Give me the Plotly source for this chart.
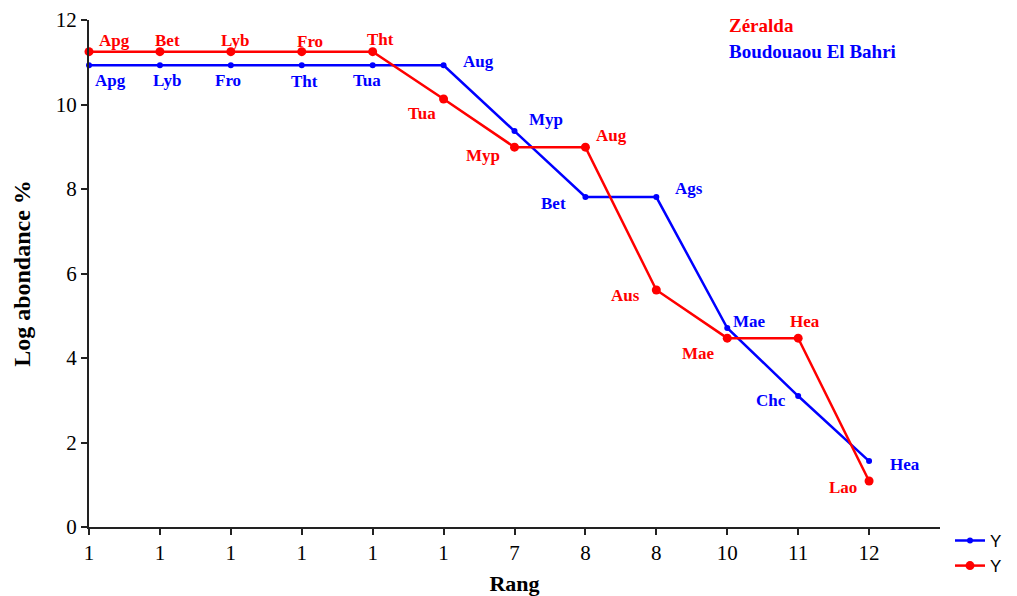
import plotly.graph_objects as go

# Data
rang_labels = ["1", "1", "1", "1", "1", "1", "7", "8", "8", "10", "11", "12"]
positions = list(range(len(rang_labels)))

boud_species = ["Apg", "Lyb", "Fro", "Tht", "Tua", "Aug", "Myp", "Bet", "Ags", "Mae", "Chc", "Hea"]
boud_values = [10.93, 10.93, 10.93, 10.93, 10.93, 10.93, 9.37, 7.81, 7.81, 4.71, 3.10, 1.56]

zer_species = ["Apg", "Bet", "Lyb", "Fro", "Tht", "Tua", "Myp", "Aug", "Aus", "Mae", "Hea", "Lao"]
zer_values = [11.25, 11.25, 11.25, 11.25, 11.25, 10.13, 8.99, 8.99, 5.61, 4.47, 4.47, 1.09]

y_ticks = [0, 2, 4, 6, 8, 10, 12]

# label pixel offsets (dx, dy with dy positive = down on screen)
boud_offsets = [(21, 15), (7, 15), (-3, 15), (3, 16), (-6, 15), (35, -4),
                (31, -12), (-32, 6), (33, -9), (22, -7), (-27, 4), (36, 3)]
zer_offsets = [(25, -11), (8, -11), (4, -11), (8, -10), (8, -12), (-22, 14),
               (-32, 8), (26, -12), (-31, 6), (-29, 15), (7, -17), (-26, 7)]

BLUE = "#0000ff"
RED = "#ff0000"
SERIF = "Liberation Serif, Times New Roman, serif"

fig = go.Figure()
fig.add_trace(go.Scatter(x=positions, y=boud_values, mode="lines+markers", name="Y",
                         line=dict(color=BLUE, width=2.5), marker=dict(color=BLUE, size=6),
                         cliponaxis=False))
fig.add_trace(go.Scatter(x=positions, y=zer_values, mode="lines+markers", name="Y",
                         line=dict(color=RED, width=2.5), marker=dict(color=RED, size=9),
                         cliponaxis=False))

annotations = []
for x, y, t, (dx, dy) in zip(positions, boud_values, boud_species, boud_offsets):
    annotations.append(dict(x=x, y=y, text=t, showarrow=False, xshift=dx, yshift=-dy,
                            font=dict(family=SERIF, size=17, color=BLUE, weight="bold")))
for x, y, t, (dx, dy) in zip(positions, zer_values, zer_species, zer_offsets):
    annotations.append(dict(x=x, y=y, text=t, showarrow=False, xshift=dx, yshift=-dy,
                            font=dict(family=SERIF, size=17, color=RED, weight="bold")))

annotations.append(dict(xref="paper", yref="paper", x=(727 - 89) / 851, y=(527 - 25) / 507,
                        text="Zéralda", showarrow=False, xanchor="left", yanchor="middle",
                        font=dict(family=SERIF, size=19, color=RED, weight="bold")))
annotations.append(dict(xref="paper", yref="paper", x=(727 - 89) / 851, y=(527 - 52) / 507,
                        text="Boudouaou El Bahri", showarrow=False, xanchor="left", yanchor="middle",
                        font=dict(family=SERIF, size=19, color=BLUE, weight="bold")))

fig.update_layout(
    width=1017, height=596,
    margin=dict(l=89, r=77, t=20, b=69, autoexpand=False),
    paper_bgcolor="white", plot_bgcolor="white",
    annotations=annotations,
    showlegend=True,
    legend=dict(x=(950 - 89) / 851, y=0.008, xanchor="left", yanchor="top",
                font=dict(family="Liberation Sans, Arial, sans-serif", size=17, color="black"),
                bgcolor="rgba(0,0,0,0)", tracegroupgap=0, itemwidth=30),
    xaxis=dict(range=[0, 12], tickmode="array", tickvals=positions, ticktext=rang_labels,
               showgrid=False, zeroline=False, showline=True, linecolor="#222", linewidth=2,
               ticks="outside", ticklen=6, tickwidth=1.5, tickcolor="#222",
               tickfont=dict(family=SERIF, size=21, color="black"),
               title=dict(text="<b>Rang</b>", font=dict(family=SERIF, size=22, color="black"),
                          standoff=12)),
    yaxis=dict(range=[0, 12], tickmode="array", tickvals=y_ticks,
               showgrid=False, zeroline=False, showline=True, linecolor="#222", linewidth=2,
               ticks="outside", ticklen=6, tickwidth=1.5, tickcolor="#222",
               tickfont=dict(family=SERIF, size=21, color="black"),
               title=dict(text="<b>Log abondance %</b>", font=dict(family=SERIF, size=24, color="black"),
                          standoff=18)),
)

fig.write_html("out.html")
